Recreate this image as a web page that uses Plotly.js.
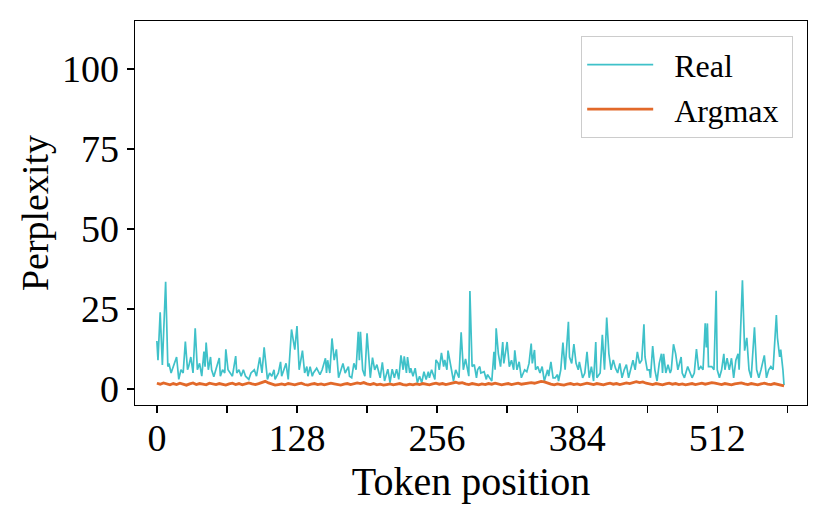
<!DOCTYPE html>
<html>
<head>
<meta charset="utf-8">
<script src="https://cdn.plot.ly/plotly-3.0.1.min.js"></script>
<style>html,body{margin:0;padding:0;background:#fff;}#chart{width:830px;height:521px;}</style>
</head>
<body>
<div id="chart"></div>
<script>
// Real perplexity: token positions and values
const realPos = [0,1,3,5,8,10,11,13,14,16,18,20,22,24,26,28,29,31,33,35,37,39,41,43,44,45,47,49,50,52,54,57,58,60,62,63,65,67,69,72,73,75,77,79,81,84,86,89,91,94,96,98,101,103,105,107,108,111,113,114,116,118,120,123,126,128,130,133,135,137,138,140,142,143,146,149,151,154,155,156,158,160,162,164,166,168,170,172,175,176,178,180,182,184,185,186,188,190,192,195,197,199,201,204,206,208,211,213,215,217,219,221,223,225,226,228,229,231,232,234,236,238,240,242,244,246,248,249,251,254,255,257,258,260,262,263,265,266,268,269,271,273,276,278,280,282,284,285,286,288,290,292,293,295,296,299,301,302,304,306,308,309,310,312,314,316,317,319,320,322,324,326,327,329,331,333,336,338,340,342,343,345,346,348,350,352,354,357,358,360,362,364,366,367,369,371,373,376,377,379,381,383,385,386,389,391,393,395,397,399,401,402,405,407,409,411,413,415,417,419,421,423,425,427,429,431,433,435,437,439,441,443,445,446,448,450,451,453,455,457,459,461,462,463,465,467,469,470,472,474,476,479,480,482,485,486,489,491,493,495,497,499,501,502,503,504,507,509,511,512,514,516,518,519,521,523,525,527,529,531,532,535,536,537,539,541,543,546,548,550,552,555,557,559,561,563,566,567,569,570,572,573];
const realPpl = [15,9,24,7.5,33.5,7,8,5,6,8,10,3,6,5,14.8,6,7,10,5,19,6,8,4,11.7,7,14.5,6,10,6,3.8,6,9.7,4,6,5,12.4,6,5,4,10.3,5,6,4,6,4,3,5,6,4,9.9,5,13,3,5,4,6,3,5,8.5,4,6,8,3,18.6,12.3,19.7,6,12,5,7,4,7,4,5,6.5,4.5,6,9.6,5,9,5,15.8,9,12.4,3.5,6,8,5,7,4,3.5,8,6,17.9,9,17.9,6,4,17.4,3.5,9.8,6,7.6,3.5,8.3,2.5,6.2,2,6.2,3.5,6.2,3,10.5,6,10.2,5,10,5,6.5,4,6.5,2,4,2,5.4,3,5.4,3.5,6,3,9.1,8,6,11.3,7,9.1,6,12,8,7,2.5,6,3.5,17.7,6,9.4,6,4,30.6,7,7.6,3.5,6,7,5,5.4,3,4.5,3.5,2.5,11.6,6,19,11,7,14.7,8,12.7,14.7,7,9,6,12.1,6,8.5,3.5,6,5.4,8,14.2,8,12.2,6,7,5,7,2.5,6,4,8.5,3.5,3.5,4.5,2.5,6,14.5,6,21,10,8,14,8,6,8.5,3.5,5,11.6,3.5,7,2.5,14.7,3.5,5,16.9,6,22.3,11,6,9.1,6.5,5,8,3.5,6,7.6,3.5,6,9,6,11.6,8,9,20.2,10,6,6,3.5,13.4,6,2.5,8,11,5,11,5,7.6,5,6,14,11,6,10,5,3.5,7,6,3.5,5,12.5,6,7,6,20.5,13,20.5,7,7,6,30.7,6,3.5,6,11,6,9.6,6,9.6,3.5,9,11,6,34,20.5,12,16,6,3.5,19.3,6,3.5,6,10.5,3.5,6,7,6,23.1,16,10,12.3,6,1.2];

// Argmax perplexity: one value every argStep tokens
const argStep = 3;
const argPpl = [
  1.8,1.5,1.9,1.6,1.3,1.7,1.4,1.8,1.5,1.2,1.6,1.9,1.4,1.7,1.5,1.3,1.8,1.6,1.4,1.7,
  1.5,1.2,1.6,1.8,1.4,1.7,1.3,1.5,1.9,1.6,1.4,1.7,2.0,2.4,1.9,1.5,1.2,1.4,1.6,1.3,
  1.7,1.5,1.3,1.6,1.8,1.4,1.2,1.5,1.7,1.4,1.6,1.3,1.5,1.8,1.6,1.4,1.2,1.5,1.7,1.4,
  1.6,1.9,1.7,2.0,1.6,1.4,1.7,1.3,1.5,1.2,1.4,1.6,1.3,1.5,1.7,1.4,1.2,1.5,1.3,1.6,
  1.4,1.7,1.5,1.3,1.6,1.8,1.5,1.7,1.4,1.6,1.9,2.1,1.8,2.0,1.6,1.4,1.7,1.5,1.3,1.6,
  1.4,1.7,1.5,1.8,1.6,1.3,1.5,1.7,1.4,1.6,1.8,1.5,1.7,1.9,2.0,1.8,2.1,2.4,2.2,1.8,
  1.5,1.3,1.6,1.4,1.2,1.5,1.7,1.4,1.6,1.3,1.5,1.8,1.6,1.4,1.7,1.5,1.3,1.6,1.8,1.5,
  1.7,1.4,1.6,1.9,1.7,2.1,2.3,2.0,2.2,1.8,1.6,1.4,1.7,1.5,1.3,1.6,1.8,1.5,1.7,1.4,
  1.6,1.3,1.5,1.7,1.4,1.6,1.8,1.5,1.7,2.0,1.8,1.6,1.4,1.7,1.5,1.3,1.6,1.8,1.9,1.6,
  1.4,1.7,1.5,1.3,1.6,1.8,1.5,1.4,1.7,1.5,1.3,1.0];
const argPos = argPpl.map((_, i) => i * argStep);

// Axis ticks
const xTickVals = [0,64,128,192,256,320,384,448,512,576];
const xTickText = ['0','','128','','256','','384','','512',''];
const yTickVals = [0,25,50,75,100];
const yTickText = ['0','25','50','75','100'];

const seriesNames = ['Real', 'Argmax'];

const FONT = 'Liberation Serif, Times New Roman, serif';
const PAD = '\u00a0\u00a0';
const TAIL = '\u00a0';

const traces = [
  {x: realPos, y: realPpl, type: 'scatter', mode: 'lines', name: PAD + seriesNames[0] + TAIL,
   line: {color: '#3fc1c9', width: 1.7}},
  {x: argPos, y: argPpl, type: 'scatter', mode: 'lines', name: PAD + seriesNames[1] + TAIL,
   line: {color: '#e2692a', width: 2.8}}
];

const layout = {
  width: 830, height: 521,
  margin: {l: 135, r: 23, t: 21, b: 116},
  paper_bgcolor: '#fff', plot_bgcolor: '#fff',
  font: {family: FONT, color: '#000', size: 36},
  showlegend: true,
  legend: {x: 0.979, xanchor: 'right', y: 0.961, yanchor: 'top',
           bgcolor: '#fff', bordercolor: '#cccccc', borderwidth: 1.3,
           font: {family: FONT, size: 32}, itemwidth: 66},
  xaxis: {range: [-20, 594], tickvals: xTickVals, ticktext: xTickText,
          ticks: 'outside', ticklen: 7, tickwidth: 1.3, tickcolor: '#000',
          showline: true, mirror: true, linecolor: '#000', linewidth: 1.3,
          showgrid: false, zeroline: false, ticklabelstandoff: -8,
          tickfont: {family: FONT, size: 38},
          title: {text: 'Token position', font: {family: FONT, size: 40}, standoff: 0}},
  yaxis: {range: [-5, 115], tickvals: yTickVals, ticktext: yTickText,
          ticks: 'outside', ticklen: 7, tickwidth: 1.3, tickcolor: '#000',
          showline: true, mirror: true, linecolor: '#000', linewidth: 1.3,
          showgrid: false, zeroline: false,
          tickfont: {family: FONT, size: 38},
          title: {text: 'Perplexity', font: {family: FONT, size: 38}, standoff: 1}}
};

Plotly.newPlot('chart', traces, layout, {displayModeBar: false, staticPlot: true});
</script>
</body>
</html>
